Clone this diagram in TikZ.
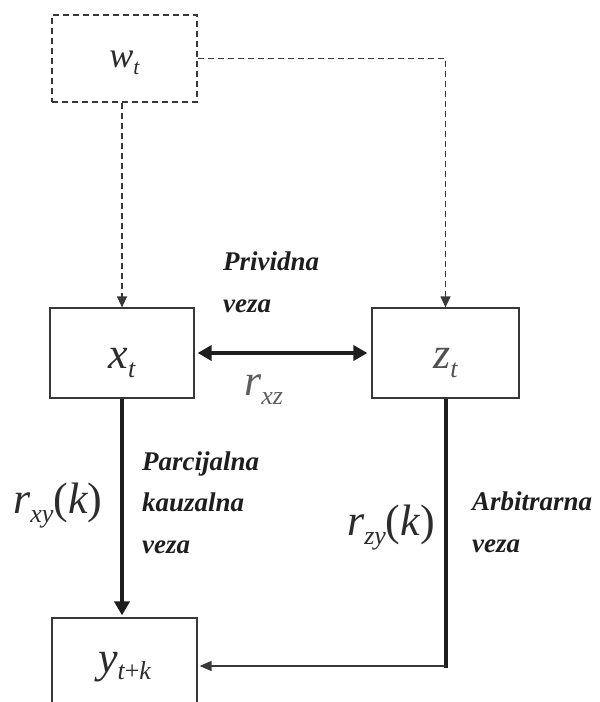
\documentclass[tikz,border=0pt]{standalone}
\usepackage{fontspec}
\setmainfont{Liberation Serif}
\usetikzlibrary{arrows.meta}
\definecolor{ink}{HTML}{1E1E1E}
\definecolor{mathdark}{HTML}{2C2C2C}
\definecolor{mathgray}{HTML}{505050}
\definecolor{mathlight}{HTML}{5E5E5E}
\definecolor{boxline}{HTML}{383838}
\newcommand{\bigmath}{\fontsize{44}{44}\selectfont\itshape}
\newcommand{\submath}{\fontsize{26}{26}\selectfont\itshape}
\newcommand{\varsub}[2]{{\bigmath #1}\raisebox{-9pt}{\submath #2}}
\newcommand{\lbl}{\fontsize{27}{41.5}\selectfont\bfseries\itshape}
\tikzset{
  x=1pt, y=-1pt,
  boxnode/.style={draw=boxline, line width=1.2pt, inner sep=0pt, rectangle},
  dashbox/.style={boxnode, dash pattern=on 6pt off 4pt},
  dasharrow/.style={draw=boxline, line width=1.2pt, dash pattern=on 6pt off 4pt, -{Triangle[length=11pt,width=10pt]}},
  thickarrow/.style={draw=ink, line width=4pt, -{Triangle[length=14pt,width=15pt]}},
  thickline/.style={draw=ink, line width=4pt},
  thinarrow/.style={draw=boxline, line width=1.4pt, -{Triangle[length=12pt,width=10pt]}},
  textlbl/.style={inner sep=0pt, anchor=base west, text=ink, align=left, font=\lbl},
  mathlbl/.style={inner sep=0pt, anchor=base west},
}
\begin{document}
\begin{tikzpicture}
\clip (0,0) rectangle (600,702);
\fill[white] (0,0) rectangle (600,702);

% boxes
\node[dashbox, minimum width=145pt, minimum height=87pt] (w) at (124.5,58.5)
  {\raisebox{-8.5pt}[0pt][0pt]{\color{mathdark}{\fontsize{36}{36}\selectfont\itshape w}\raisebox{-7pt}{\fontsize{22}{22}\selectfont\itshape t}}};
\node[boxnode, minimum width=144pt, minimum height=90pt] (x) at (122,353)
  {\raisebox{-15pt}[0pt][0pt]{\color{mathdark}\varsub{x}{t}}};
\node[boxnode, minimum width=147pt, minimum height=90pt] (z) at (445.5,353)
  {\raisebox{-15pt}[0pt][0pt]{\color{mathgray}\varsub{z}{t}}};
\node[boxnode, minimum width=145pt, minimum height=96pt] (y) at (124.5,666)
  {\raisebox{-6pt}[0pt][0pt]{\color{mathdark}{\bigmath y}\raisebox{-7pt}{\submath t{\upshape+}k}}};

% connectors
\draw[dasharrow] (x.north |- w.south) -- (x.north);
\draw[dasharrow] (w.east) -| (z.north);
\draw[thickline, {Triangle[length=14pt,width=15pt]}-{Triangle[length=14pt,width=15pt]}, shorten <=3pt, shorten >=4pt] (x.east) -- (z.west);
\draw[thickarrow, shorten >=2pt] (x.south) -- (x.south |- y.north);
\coordinate (zc) at (z.south |- y.east);
\draw[thickline] (z.south) -- ([yshift=-2pt]zc);
\draw[thinarrow, shorten >=2pt] (zc) -- (y.east);

% labels (base anchor = baseline of last line)
\node[textlbl] (lprividna) at (223,312) {Prividna\\veza};
\node[mathlbl] (lrxz) at (244,395) {\color{mathlight}\varsub{r}{xz}};
\node[textlbl] (lparc) at (142,553) {Parcijalna\\kauzalna\\veza};
\node[mathlbl] (lrxy) at (13,513) {\color{mathdark}\varsub{r}{xy}{\bigmath\upshape(}{\bigmath k}{\bigmath\upshape)}};
\node[mathlbl] (lrzy) at (347,535) {\color{mathdark}\varsub{r}{zy}{\bigmath\upshape(}{\bigmath k}{\bigmath\upshape)}};
\node[textlbl] (larb) at (472,552) {Arbitrarna\\veza};
\end{tikzpicture}
\end{document}
